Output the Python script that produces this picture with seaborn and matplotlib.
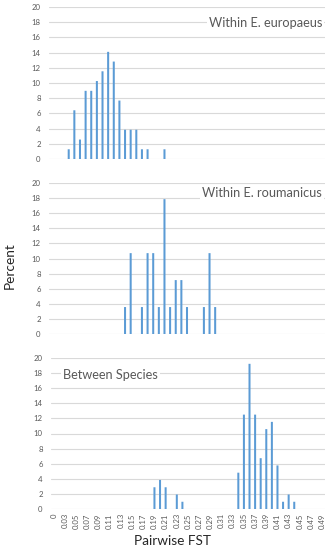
import numpy as np
import pandas as pd
import matplotlib
matplotlib.use('Agg')
import matplotlib.pyplot as plt
import matplotlib.transforms as mtrans
import seaborn as sns

# x categories (Excel histogram bins)
categories = ['0'] + [f'{v / 100:g}' for v in range(2, 50)]

# percent of pairwise comparisons per bin
europaeus_bins = ['0.04', '0.05', '0.06', '0.07', '0.08', '0.09', '0.1', '0.11',
                  '0.12', '0.13', '0.14', '0.15', '0.16', '0.17', '0.18', '0.21']
europaeus_pct = [1.28, 6.41, 2.56, 8.97, 8.97, 10.26, 11.54, 14.10,
                 12.82, 7.69, 3.85, 3.85, 3.85, 1.28, 1.28, 1.28]

roumanicus_bins = ['0.14', '0.15', '0.17', '0.18', '0.19', '0.2', '0.21',
                   '0.22', '0.23', '0.24', '0.25', '0.28', '0.29', '0.3']
roumanicus_pct = [3.57, 10.71, 3.57, 10.71, 10.71, 3.57, 17.86,
                  3.57, 7.14, 7.14, 3.57, 3.57, 10.71, 3.57]

between_bins = ['0.19', '0.2', '0.21', '0.23', '0.24', '0.34', '0.35', '0.36',
                '0.37', '0.38', '0.39', '0.4', '0.41', '0.42', '0.43', '0.44']
between_pct = [2.88, 3.85, 2.88, 1.92, 0.96, 4.81, 12.50, 19.23,
               12.50, 6.73, 10.58, 11.54, 5.77, 0.96, 1.92, 0.96]

yticks = list(range(0, 21, 2))

sns.set_style('white')
plt.rcParams['font.family'] = ['Lato', 'DejaVu Sans']

W, H = 332, 550
fig = plt.figure(figsize=(W / 100, H / 100), dpi=100)

blue = '#5B9BD5'
grid_c = '#D9D9D9'
tick_c = '#595959'

# (left px, bottom px, width px, height px, title, bins, values, text x, ha, text y)
panels = [
    (49, 391, 276, 152, 'Within E. europaeus', europaeus_bins, europaeus_pct, 0.99, 'right', 17.9),
    (49, 216, 276, 151, 'Within E. roumanicus', roumanicus_bins, roumanicus_pct, 0.99, 'right', 18.7),
    (51, 41, 274, 151, 'Between Species', between_bins, between_pct, 0.045, 'left', 17.7),
]

for i, (l, b, w, h, title, bins, vals, tx, ha, ty) in enumerate(panels):
    ax = fig.add_axes([l / W, b / H, w / W, h / H])
    df = pd.DataFrame({'bin': bins, 'pct': vals})
    sns.barplot(data=df, x='bin', y='pct', order=categories, color=blue,
                saturation=1, width=0.36, errorbar=None, linewidth=0, ax=ax)
    for p in ax.patches:
        p.set_snap(False)
    ax.set_ylim(0, 20)
    ax.set_xlim(-0.5, len(categories) - 0.5)
    ax.set_yticks(yticks)
    ax.grid(axis='y', color=grid_c, linewidth=0.8)
    ax.set_axisbelow(True)
    for s in ax.spines.values():
        s.set_visible(False)
    ax.tick_params(axis='y', length=0, labelsize=5.6, labelcolor=tick_c, pad=6)
    ax.set_xlabel('')
    ax.set_ylabel('')
    if i < 2:
        ax.set_xticks([])
    else:
        pos = list(range(0, len(categories), 2))
        ax.set_xticks(pos)
        ax.set_xticklabels([categories[p] for p in pos], rotation=90,
                           fontsize=5.6, color=tick_c)
        ax.tick_params(axis='x', length=0, pad=3)
    trans = mtrans.blended_transform_factory(ax.transAxes, ax.transData)
    ax.text(tx, ty, title, transform=trans, ha=ha, va='center',
            fontsize=9.2, color=tick_c,
            bbox=dict(facecolor='white', edgecolor='none', pad=1.5))

fig.text(10 / W, (H - 266) / H, 'Percent', rotation=90, ha='center', va='center',
         fontsize=9.8, color='#262626')
fig.text(172 / W, (H - 541) / H, 'Pairwise FST', ha='center', va='center',
         fontsize=9.8, color='#262626')

fig.savefig('out.png', dpi=100)
